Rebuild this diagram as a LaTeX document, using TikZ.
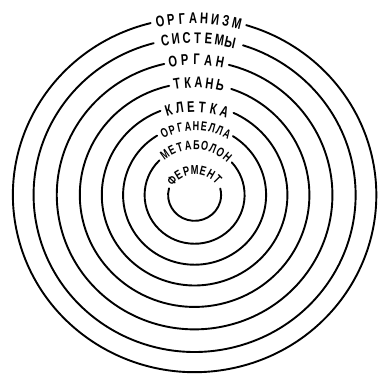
\documentclass[tikz,border=0pt]{standalone}
\usepackage{fontspec}
\setmainfont{Liberation Sans}
\usetikzlibrary{calc}
\tikzset{
  ring/.style={line width=1.9bp, line cap=round},
  lbl/.style={inner sep=0pt, text height=7bp, text depth=0pt, anchor=center, font=\bfseries}
}
% #1 name, #2 radius, #3 first angle, #4 step, #5 letters, #6 font size, #7 x-scale, #8 centre
\newcommand\ringlabel[8]{%
  \foreach \l [count=\k from 0] in {#5} {%
    \pgfmathsetmacro\ang{#3-\k*#4}%
    \pgfmathsetmacro\px{#2*cos(\ang)}%
    \pgfmathsetmacro\py{0.975*#2*sin(\ang)}%
    \node[lbl, rotate=\ang-90] (#1\k) at ($(#8)+(\px,\py)$)
      {\fontsize{#6}{#6}\selectfont\scalebox{#7}[1]{\l}};
  }%
}
\begin{document}
\begin{tikzpicture}[x=1bp, y=1bp]
\useasboundingbox (0,0) rectangle (378,374);
\coordinate (C) at (194.6,179);
\coordinate (Cf) at (195,173);
% rings: radius, left gap end angle, right gap end angle
\foreach \r/\a/\b in {181.7/104/73.5, 161/104.7/72.5, 137.8/102.7/75.6, 114.8/102.8/71.4,
                      92.8/111.6/65.2, 71.5/121.6/57.6, 50/134.8/42, 26.5/165/14.5} {
  \pgfmathsetmacro\ry{0.975*\r}
  \pgfmathsetmacro\e{\b+360}
  \pgfmathsetmacro\sx{\r*cos(\a)}
  \pgfmathsetmacro\sy{\ry*sin(\a)}
  \draw[ring] ($(C)+(\sx,\sy)$) arc[start angle=\a, end angle=\e, x radius=\r, y radius=\ry];
}
\ringlabel{a}{179.5}{101}{3.5}{О,Р,Г,А,Н,И,З,М}{15.5}{0.72}{C}
\ringlabel{b}{159}{100.6}{3.9}{С,И,С,Т,Е,М,Ы}{15.5}{0.72}{C}
\ringlabel{c}{137}{99}{4.9}{О,Р,Г,А,Н}{15.5}{0.72}{C}
\ringlabel{d}{113.5}{98.8}{5.4}{Т,К,А,Н,Ь}{15.5}{0.72}{C}
\ringlabel{e}{88.5}{106.7}{7.2}{К,Л,Е,Т,К,А}{15.5}{0.72}{C}
\ringlabel{f}{69.5}{115.3}{6.6}{О,Р,Г,А,Н,Е,Л,Л,А}{13}{0.7}{C}
\ringlabel{g}{50}{125.9}{9.5}{М,Е,Т,А,Б,О,Л,О,Н}{13}{0.7}{C}
\ringlabel{h}{30.5}{137}{15.5}{Ф,Е,Р,М,Е,Н,Т}{13}{0.72}{Cf}
\end{tikzpicture}
\end{document}
